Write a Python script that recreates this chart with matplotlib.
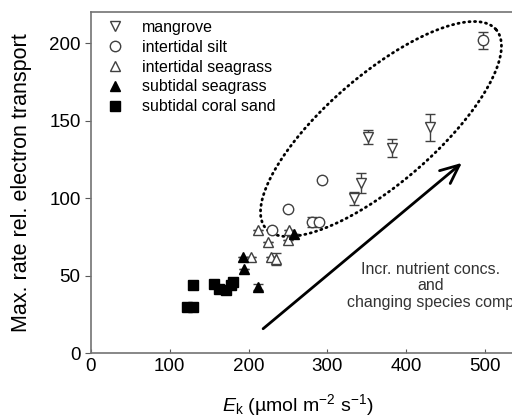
import numpy as np
import matplotlib
matplotlib.use("Agg")
import matplotlib.pyplot as plt
from matplotlib.lines import Line2D

plt.rcParams['font.family'] = ['Liberation Sans', 'DejaVu Sans']
plt.rcParams['mathtext.fontset'] = 'custom'
plt.rcParams['mathtext.rm'] = 'Liberation Sans'
plt.rcParams['mathtext.it'] = 'Liberation Sans:italic'

# mangrove
mang_x = [333.4, 342.6, 351.2, 381.6, 430.6]
mang_y = [99.9, 110.0, 139.5, 132.2, 145.8]
mang_err = [4.3, 6.5, 4.7, 5.8, 8.6]

# intertidal silt
silt_x = [230, 249.5, 281, 289.7, 293, 497]
silt_y = [79.4, 93.4, 84.7, 84.7, 112, 202]
silt_err = [0, 0, 3, 0, 0, 5.5]

# intertidal seagrass
isg_x = [203, 211.6, 224, 228.4, 234.8, 249.5, 251.6]
isg_y = [62, 79.4, 71.8, 62, 61, 73, 79.4]
isg_err = [0, 0, 0, 0, 4, 0, 0]

# subtidal seagrass
ssg_x = [192.5, 194.6, 211.5, 258]
ssg_y = [62, 54.6, 43, 77]
ssg_err = [0, 0, 2, 0]

# subtidal coral sand
coral_x = [122, 130, 129, 156, 163, 171, 178, 180]
coral_y = [30, 30, 44, 45, 41.7, 41, 43.8, 46]
coral_err = [2, 0, 0, 0, 0, 0, 0, 2]

labels = ['mangrove', 'intertidal silt', 'intertidal seagrass',
          'subtidal seagrass', 'subtidal coral sand']

fig = plt.figure(figsize=(5.12, 4.18), dpi=100)
ax = fig.add_axes([91/512, 64.7/418, 560*0.788/512, 341/418])

ec = '0.25'
ms = 7.5
common = dict(ecolor=ec, elinewidth=1, capsize=3.5, capthick=1, ms=ms, mew=1, ls='none')
ax.errorbar(mang_x, mang_y, yerr=mang_err, fmt='v', mfc='white', mec=ec, **common)
ax.errorbar(silt_x, silt_y, yerr=silt_err, fmt='o', mfc='white', mec=ec, **common)
ax.errorbar(isg_x, isg_y, yerr=isg_err, fmt='^', mfc='white', mec=ec, **common)
ax.errorbar(ssg_x, ssg_y, yerr=ssg_err, fmt='^', mfc='black', mec='black', **common)
ax.errorbar(coral_x, coral_y, yerr=coral_err, fmt='s', mfc='black', mec='black', **common)

# dotted ellipse round the high-Ek group
t = np.linspace(0, 2*np.pi, 400)
ex = 368 + 146.2*np.cos(t) + 44.7*np.sin(t)
ey = 144.7 + 64.1*np.cos(t) - 26.5*np.sin(t)
ax.plot(ex, ey, color='black', lw=2, ls=(0, (0.4, 1.6)), dash_capstyle='round')

# arrow and note
ax.annotate('', xy=(473.4, 124), xytext=(215.7, 14.7),
            arrowprops=dict(arrowstyle='->,head_length=0.45,head_width=0.2', lw=2,
                            color='black', mutation_scale=30))
ax.text(431.5, 43.5, 'Incr. nutrient concs.\nand\nchanging species comp',
        ha='center', va='center', fontsize=11.5, color='0.2', linespacing=1.15)

ax.set_xlim(0, 560)
ax.set_ylim(0, 220)
ax.set_xticks([0, 100, 200, 300, 400, 500])
ax.set_yticks([0, 50, 100, 150, 200])
ax.tick_params(axis='both', labelsize=13.5, colors='0.35', labelcolor='black')
ax.tick_params(axis='x', direction='in', length=3)
ax.tick_params(axis='y', direction='out', length=4)
for s in ax.spines.values():
    s.set_color('0.45')
    s.set_linewidth(1.2)

ax.set_ylabel('Max. rate rel. electron transport', fontsize=15.5)
ax.yaxis.set_label_coords(-0.133, 0.5)
ax.set_xlabel(r'$E_\mathrm{k}$ (µmol m$^{-2}$ s$^{-1}$)', fontsize=14)
ax.xaxis.set_label_coords((297.5-91)/441.3, -(392-353.3)/341)

handles = [
    Line2D([], [], ls='none', marker='v', ms=ms, mfc='white', mec=ec),
    Line2D([], [], ls='none', marker='o', ms=ms, mfc='white', mec=ec),
    Line2D([], [], ls='none', marker='^', ms=ms, mfc='white', mec=ec),
    Line2D([], [], ls='none', marker='^', ms=ms, mfc='black', mec='black'),
    Line2D([], [], ls='none', marker='s', ms=ms, mfc='black', mec='black'),
]
ax.legend(handles, labels, loc='upper left', bbox_to_anchor=(0.0, 1.01), frameon=False,
          fontsize=11.5, handletextpad=0.9, labelspacing=0.3, borderaxespad=0.3,
          handlelength=1.6)

plt.savefig('out.png', dpi=100)
